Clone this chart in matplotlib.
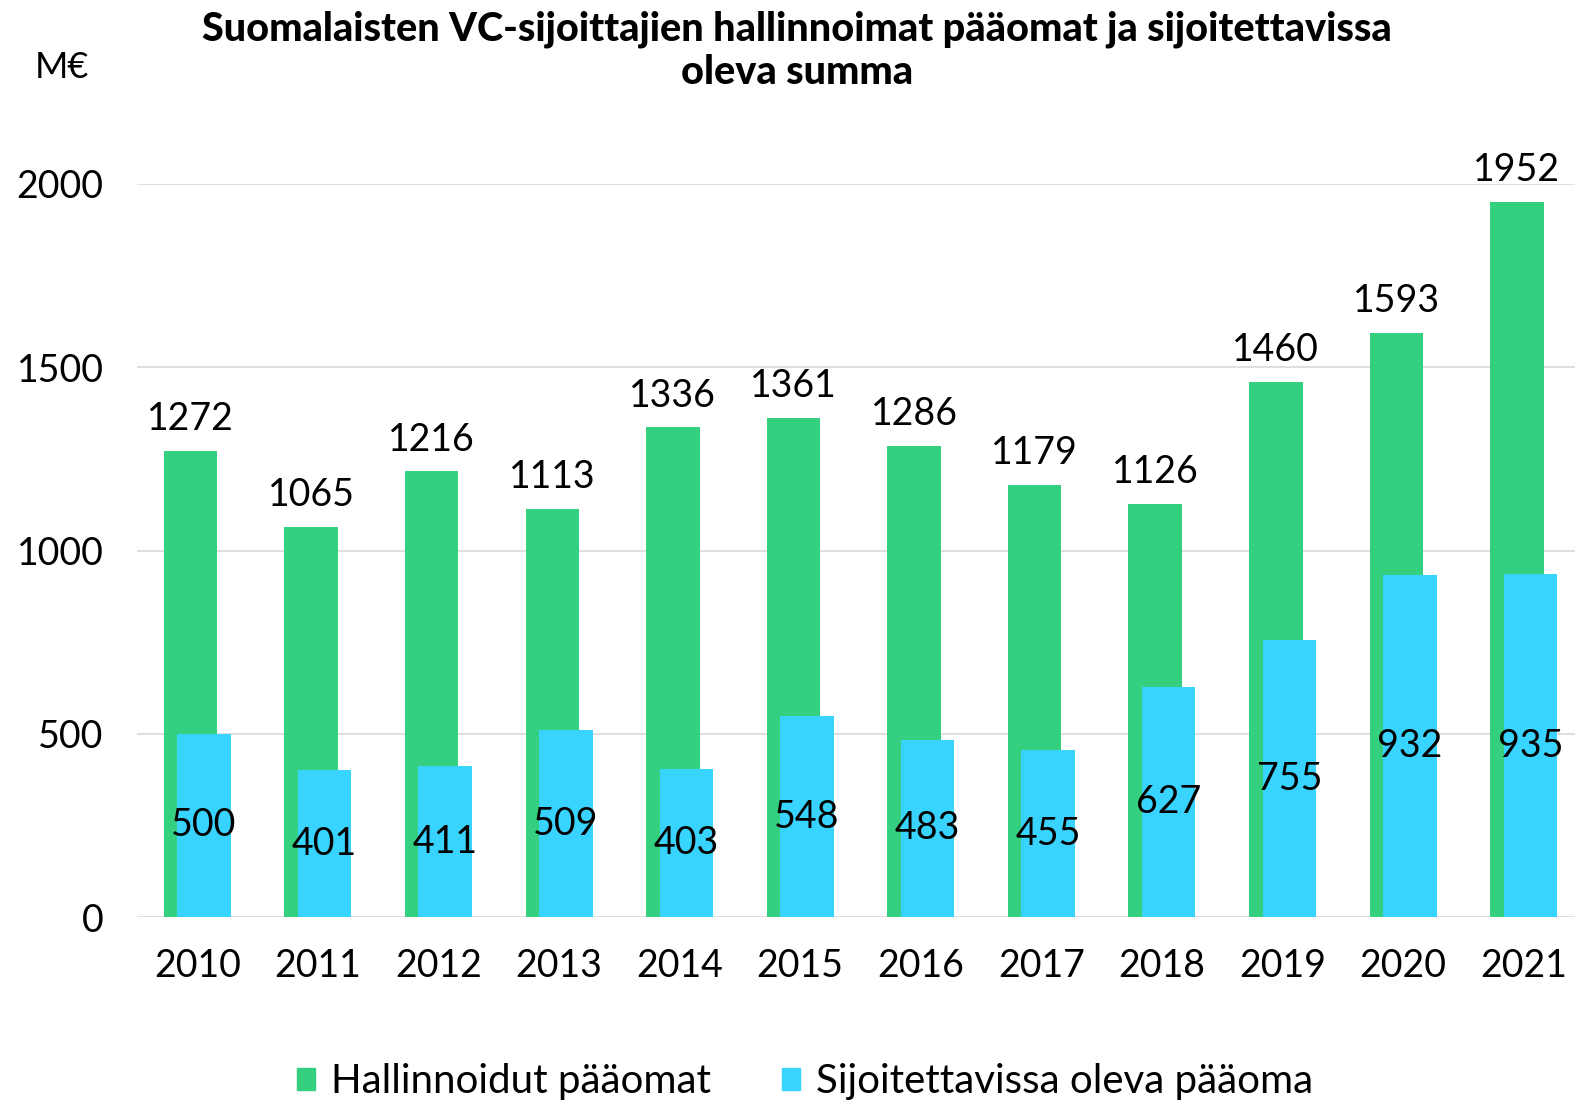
import numpy as np
import matplotlib
matplotlib.use("Agg")
import matplotlib.pyplot as plt
import matplotlib.patches as mpatches

plt.rcParams["font.family"] = ["Lato", "DejaVu Sans"]

years = ["2010", "2011", "2012", "2013", "2014", "2015",
         "2016", "2017", "2018", "2019", "2020", "2021"]
managed = [1272, 1065, 1216, 1113, 1336, 1361, 1286, 1179, 1126, 1460, 1593, 1952]
investable = [500, 401, 411, 509, 403, 548, 483, 455, 627, 755, 932, 935]

GREEN = "#35D07F"
BLUE = "#38D3FE"
GRID = "#D9D9D9"
FS = 27

fig = plt.figure(figsize=(15.75, 11.01), dpi=100)
ax = fig.add_axes([137 / 1575, (1101 - 917) / 1101, 1447 / 1575, 733 / 1101])

x = np.arange(len(years))
w = 0.444
off = 0.056
ax.bar(x - off, managed, width=w, color=GREEN, zorder=2)
ax.bar(x + off, investable, width=w, color=BLUE, zorder=3)

# green labels sit above the bar, blue labels in the middle of the bar
for xi, v in zip(x, managed):
    ax.annotate(f"{v}", (xi - off, v), xytext=(0, 15), textcoords="offset points",
                ha="center", va="baseline", fontsize=FS, zorder=4)
for xi, v in zip(x, investable):
    ax.text(xi + off, v / 2, f"{v}", ha="center", va="center",
            fontsize=FS, zorder=4)

ax.set_xlim(-0.5, len(years) - 0.5)
ax.set_ylim(0, 2000)
ax.set_yticks([0, 500, 1000, 1500, 2000])
ax.set_xticks(x)
ax.set_xticklabels(years)
ax.tick_params(axis="both", length=0, labelsize=FS)
ax.tick_params(axis="x", pad=22)
ax.tick_params(axis="y", pad=24)
ax.yaxis.grid(True, color=GRID, linewidth=1.2, zorder=0)
ax.set_axisbelow(True)
for s in ax.spines.values():
    s.set_visible(False)

fig.text(35 / 1575, 1 - 68 / 1101, "M€", fontsize=FS - 1, ha="left", va="center")
fig.text(797 / 1575, 1 - 51 / 1101,
         "Suomalaisten VC-sijoittajien hallinnoimat pääomat ja sijoitettavissa\noleva summa",
         ha="center", va="center", fontsize=28.5, fontweight="black",
         linespacing=1.2)

handles = [mpatches.Patch(color=GREEN, label="Hallinnoidut pääomat"),
           mpatches.Patch(color=BLUE, label="Sijoitettavissa oleva pääoma")]
fig.legend(handles=handles, loc="center", bbox_to_anchor=(805 / 1575, 19 / 1101),
           ncol=2, frameon=False, fontsize=29, handlelength=0.45, handleheight=0.45,
           handletextpad=0.4, columnspacing=1.75, borderaxespad=0)

fig.savefig("out.png", dpi=100)
